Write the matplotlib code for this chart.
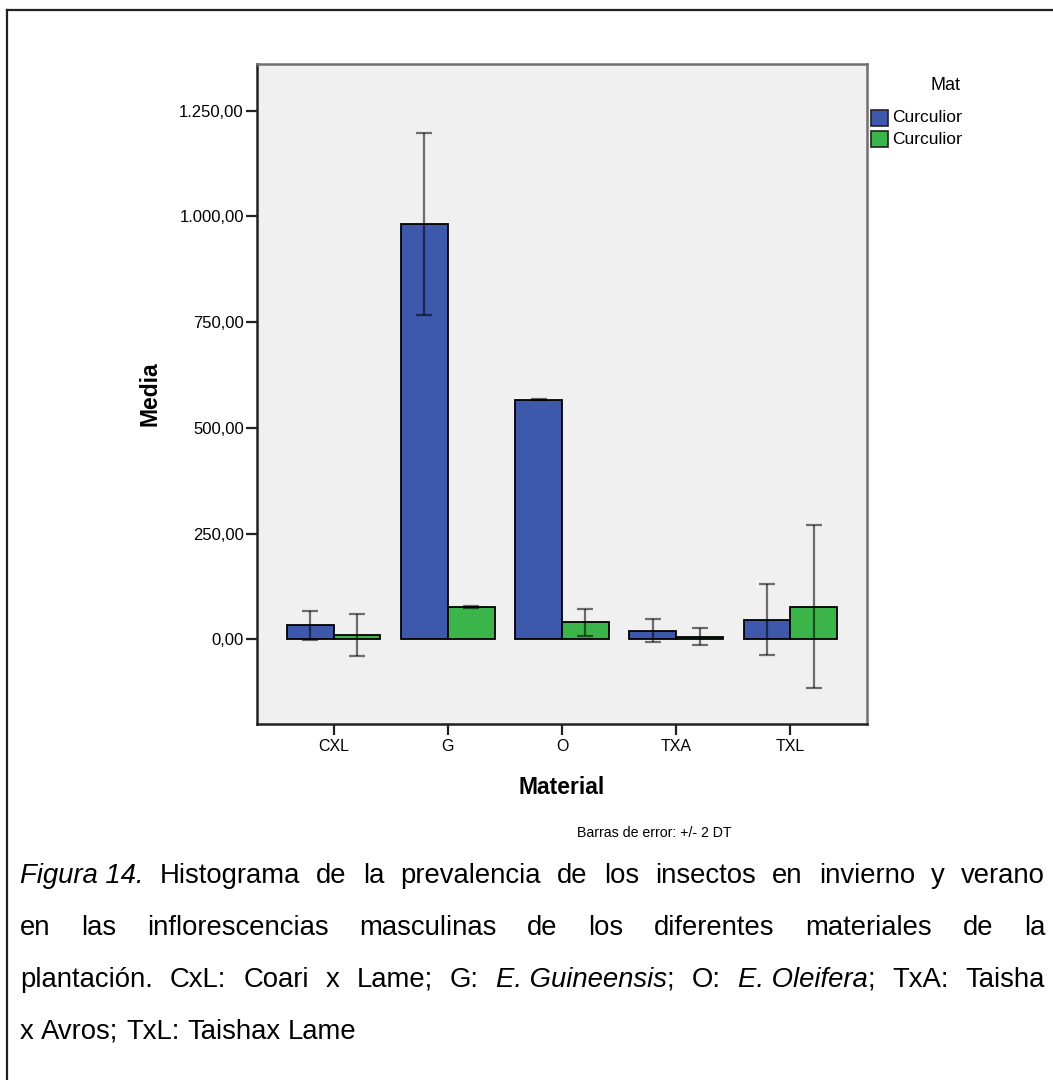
import matplotlib
matplotlib.use("Agg")
import matplotlib.pyplot as plt
import numpy as np
from matplotlib.patches import Rectangle
from matplotlib.lines import Line2D

plt.rcParams['font.family'] = ['Liberation Sans', 'DejaVu Sans']

# data
categories = ['CXL', 'G', 'O', 'TXA', 'TXL']
blue_means = [33, 981, 567, 21, 47]
blue_err = [34, 215, 2, 28, 85]
green_means = [10, 76, 40, 6, 77]
green_err = [50, 2, 31, 20, 193]
ytick_vals = [0, 250, 500, 750, 1000, 1250]
ytick_labels = ['0,00', '250,00', '500,00', '750,00', '1.000,00', '1.250,00']

BLUE = '#3E58AC'
GREEN = '#3BB44A'
W, H = 1053, 1080

fig = plt.figure(figsize=(W / 100, H / 100), dpi=100)
fig.patch.set_facecolor('white')


def fx(px):
    return px / W


def fy(py):
    return 1 - py / H


# outer frame (only left and top visible, rest cropped)
fig.add_artist(Line2D([fx(7), fx(7)], [fy(10), 0], color='#222222', lw=1.6))
fig.add_artist(Line2D([fx(7), 1], [fy(10), fy(10)], color='#222222', lw=1.6))

ax = fig.add_axes([fx(257), fy(724), fx(867) - fx(257), fy(64) - fy(724)])
ax.set_facecolor('#F0F0F0')

x = np.arange(len(categories))
bw = 0.41
ax.bar(x - bw / 2, blue_means, bw, color=BLUE, edgecolor='black', linewidth=1.3, zorder=2)
ax.bar(x + bw / 2, green_means, bw, color=GREEN, edgecolor='black', linewidth=1.3, zorder=2)
ax.errorbar(x - bw / 2, blue_means, yerr=blue_err, fmt='none', ecolor='black', alpha=0.55,
            elinewidth=1.6, capsize=6, capthick=1.6, zorder=3)
ax.errorbar(x + bw / 2, green_means, yerr=green_err, fmt='none', ecolor='black', alpha=0.55,
            elinewidth=1.6, capsize=6, capthick=1.6, zorder=3)

ax.set_xlim(-0.67, 4.67)
ax.set_ylim(-200, 1360)
ax.set_xticks(x)
ax.set_xticklabels(categories, fontsize=11.5)
ax.set_yticks(ytick_vals)
ax.set_yticklabels(ytick_labels, fontsize=12)
ax.tick_params(axis='y', length=8, width=1.6, pad=1.5, color='#222222')
ax.tick_params(axis='x', length=8, width=1.6, pad=3, color='#222222')
for s in ['left', 'bottom']:
    ax.spines[s].set_color('#222222')
    ax.spines[s].set_linewidth(1.8)
for s in ['top', 'right']:
    ax.spines[s].set_color('#707070')
    ax.spines[s].set_linewidth(1.8)

fig.text(fx(150), fy(394), 'Media', rotation=90, ha='center', va='center',
         fontsize=16.5, fontweight='bold')
fig.text(fx(562), fy(787), 'Material', ha='center', va='center',
         fontsize=16.5, fontweight='bold')
fig.text(fx(577), fy(833), 'Barras de error: +/- 2 DT', ha='left', va='center',
         fontsize=10.2)

# legend, clipped at the right like the reference
clip = Rectangle((0, 0), fx(962), 1, transform=fig.transFigure, visible=False)
fig.add_artist(clip)
t = fig.text(fx(930), fy(85), 'Mat', ha='left', va='center', fontsize=13)
t.set_clip_path(clip)
for i, c in enumerate([BLUE, GREEN]):
    yc = 118 + i * 21
    fig.add_artist(Rectangle((fx(871), fy(yc + 8)), fx(17), fy(0) - fy(16), facecolor=c,
                             edgecolor='#222222', lw=1.2, transform=fig.transFigure))
    t = fig.text(fx(892), fy(yc), 'Curculionidae', ha='left', va='center', fontsize=12.5)
    t.set_clip_path(clip)

# caption with justified lines
cap_fs = 19.8
lines = [
    [[('Figura 14.', 'italic')], [('Histograma', 'normal')], [('de', 'normal')], [('la', 'normal')],
     [('prevalencia', 'normal')], [('de', 'normal')], [('los', 'normal')], [('insectos', 'normal')],
     [('en', 'normal')], [('invierno', 'normal')], [('y', 'normal')], [('verano', 'normal')]],
    [[(w, 'normal')] for w in 'en las inflorescencias masculinas de los diferentes materiales de la'.split()],
    [[('plantación.', 'normal')], [('CxL:', 'normal')], [('Coari', 'normal')], [('x', 'normal')],
     [('Lame;', 'normal')], [('G:', 'normal')], [('E. Guineensis', 'italic'), (';', 'normal')],
     [('O:', 'normal')], [('E. Oleifera', 'italic'), (';', 'normal')], [('TxA:', 'normal')],
     [('Taisha', 'normal')]],
    [[(w, 'normal')] for w in 'x Avros; TxL: Taishax Lame'.split()],
]
line_base = [883, 935, 987, 1039]
justify = [True, True, True, False]

fig.canvas.draw()
renderer = fig.canvas.get_renderer()
space = fig.text(0, 0, 'a a', fontsize=cap_fs)
sa = fig.text(0, 0, 'aa', fontsize=cap_fs)
space_w = (space.get_window_extent(renderer).width - sa.get_window_extent(renderer).width)
space.remove()
sa.remove()

for words, yl, just in zip(lines, line_base, justify):
    texts = []
    widths = []
    for word in words:
        segs = []
        wsum = 0
        for s, st in word:
            tt = fig.text(0, fy(yl), s, fontsize=cap_fs, style=st, ha='left', va='baseline')
            w = tt.get_window_extent(renderer).width
            segs.append((tt, w))
            wsum += w
        texts.append(segs)
        widths.append(wsum)
    if just:
        gap = (1045 - 20 - sum(widths)) / (len(words) - 1)
    else:
        gap = space_w
    xp = 20
    for segs, wsum in zip(texts, widths):
        xs = xp
        for tt, w in segs:
            tt.set_x(fx(xs))
            xs += w
        xp += wsum + gap

fig.savefig('out.png', dpi=100)
